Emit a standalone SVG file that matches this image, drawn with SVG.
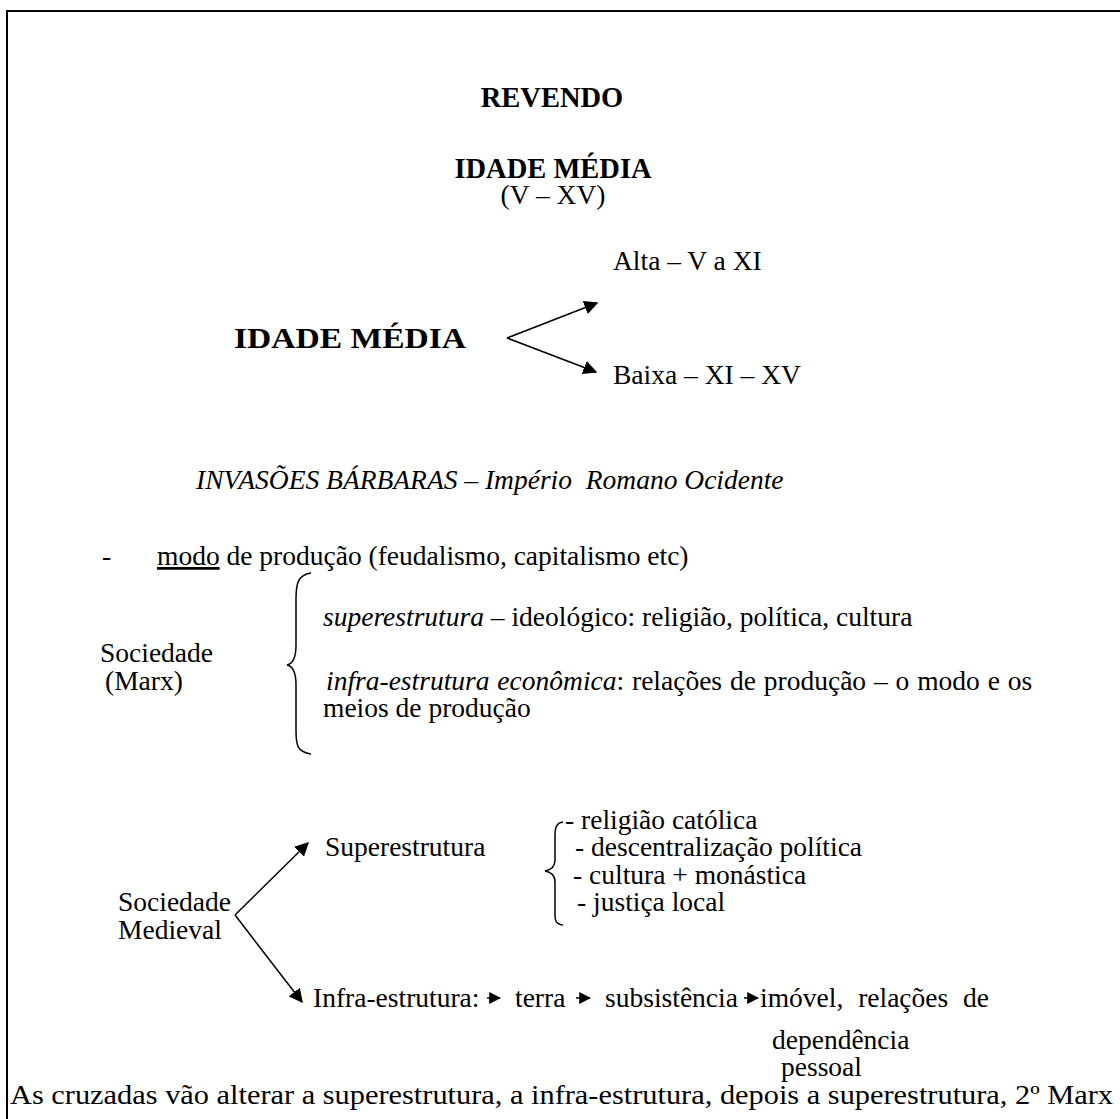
<svg xmlns="http://www.w3.org/2000/svg" width="1120" height="1119" viewBox="0 0 1120 1119" font-family="'Liberation Serif', 'Times New Roman', serif" font-size="27.5">
<style>
text{font-family:'Liberation Serif','Times New Roman',serif;font-size:27.5px;fill:#000}
.b{font-weight:bold}
.t{font-size:28.5px}
.big{font-size:30px}
.i{font-style:italic}
.ln{stroke:#000;stroke-width:1.5;fill:none}
.br{stroke:#000;stroke-width:1.5;fill:none}
</style>
<defs>
<marker id="ah" viewBox="0 0 10 10" refX="9" refY="5" markerWidth="12" markerHeight="12" markerUnits="userSpaceOnUse" orient="auto"><path d="M0,0 L10,5 L0,10 z" fill="#000"/></marker>
<marker id="ah2" viewBox="0 0 10 10" refX="9" refY="5" markerWidth="14" markerHeight="14" markerUnits="userSpaceOnUse" orient="auto"><path d="M0,0 L10,5 L0,10 z" fill="#000"/></marker>
</defs>
<rect x="0" y="0" width="1120" height="1119" fill="#fff"/>
<path d="M7,1119 V11 H1120" stroke="#000" stroke-width="2" fill="none"/>

<g id="title">
<text class="b t" x="552" y="107" text-anchor="middle">REVENDO</text>
<text class="b t" x="553" y="178" text-anchor="middle">IDADE MÉDIA</text>
<text x="553" y="204" text-anchor="middle">(V – XV)</text>
</g>
<g id="idade-media">
<text class="b big" x="234" y="348" textLength="232" lengthAdjust="spacingAndGlyphs">IDADE MÉDIA</text>
</g>
<g id="alta"><text x="613" y="270">Alta – V a XI</text></g>
<g id="baixa"><text x="613" y="384">Baixa – XI – XV</text></g>
<g id="invasoes"><text class="i" x="196" y="489" xml:space="preserve">INVASÕES BÁRBARAS – Império  Romano Ocidente</text></g>
<g id="modo"><text x="102" y="565">-</text><text x="157" y="565"><tspan text-decoration="underline">modo</tspan> de produção (feudalismo, capitalismo etc)</text></g>
<g id="sociedade-marx">
<text x="100" y="662">Sociedade</text>
<text x="105" y="690">(Marx)</text>
</g>
<g id="marx-items">
<text x="323" y="626"><tspan class="i">superestrutura</tspan> – ideológico: religião, política, cultura</text>
<text x="326" y="690" word-spacing="1"><tspan class="i">infra-estrutura econômica</tspan>: relações de produção – o modo e os</text>
<text x="323" y="717">meios de produção</text>
</g>
<g id="sociedade-medieval">
<text x="118" y="911">Sociedade</text>
<text x="118" y="939">Medieval</text>
</g>
<g id="superestrutura"><text x="325" y="856">Superestrutura</text></g>
<g id="super-items">
<text x="565" y="829">- religião católica</text>
<text x="575" y="856">- descentralização política</text>
<text x="573" y="884">- cultura + monástica</text>
<text x="577" y="911">- justiça local</text>
</g>
<g id="infra">
<text x="313" y="1007">Infra-estrutura:</text>
<text x="515" y="1007">terra</text>
<text x="605" y="1007">subsistência</text>
<text x="760" y="1007" word-spacing="8">imóvel, relações de</text>
<text x="772" y="1049">dependência</text>
<text x="781" y="1076">pessoal</text>
</g>
<g id="conclusao"><text x="10" y="1104" textLength="1103" lengthAdjust="spacingAndGlyphs">As cruzadas vão alterar a superestrutura, a infra-estrutura, depois a superestrutura, 2º Marx</text></g>

<g id="connectors">
<line class="ln" x1="507" y1="338" x2="597" y2="303" marker-end="url(#ah2)"/>
<line class="ln" x1="507" y1="338" x2="596" y2="372" marker-end="url(#ah2)"/>
<path class="br" d="M311,573 C297,575 296,585 296,600 L296,645 C296,658 292,664 287,665 C292,666 296,672 296,685 L296,730 C296,745 297,752 311,754"/>
<path class="br" d="M563,822 C556,823 555,828 555,836 L555,860 C555,867 551,870 545,871 C551,872 555,875 555,882 L555,915 C555,921 556,924 563,925"/>
<line class="ln" x1="235" y1="915" x2="308" y2="843" marker-end="url(#ah2)"/>
<line class="ln" x1="235" y1="915" x2="302" y2="1002" marker-end="url(#ah2)"/>
<line class="ln" x1="487" y1="998" x2="500" y2="998" marker-end="url(#ah)"/>
<line class="ln" x1="576" y1="998" x2="590" y2="998" marker-end="url(#ah)"/>
<line class="ln" x1="744" y1="998" x2="758" y2="998" marker-end="url(#ah)"/>
</g>
</svg>
